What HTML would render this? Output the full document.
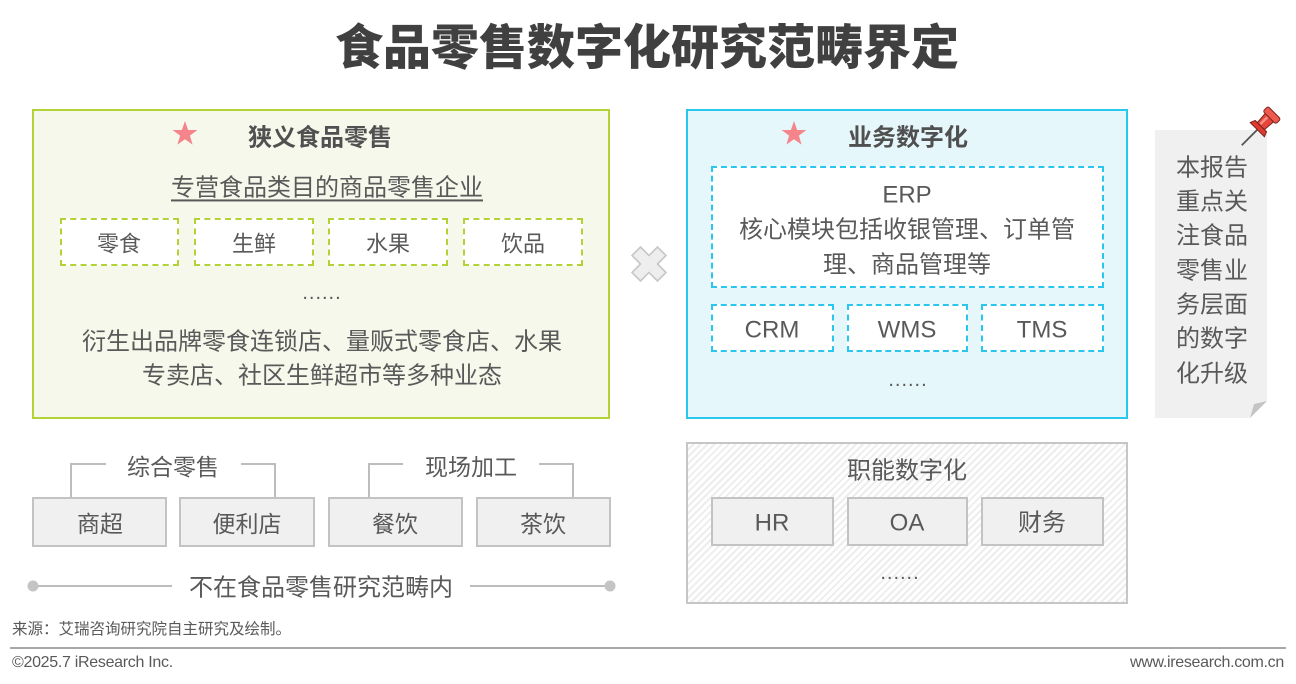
<!DOCTYPE html>
<html><head><meta charset="utf-8">
<style>
*{margin:0;padding:0;box-sizing:border-box}
html,body{width:1296px;height:684px;background:#fff;overflow:hidden}
body{position:relative;font-family:"Liberation Sans","Noto Sans CJK SC",sans-serif;color:#595959}
.a{position:absolute}
.t{position:absolute;white-space:nowrap;line-height:1;transform:translate(-50%,-44%);text-align:center}
.bx{position:absolute}
.gd{border:2px dashed #b2d235;background:#fff}
.cd{border:2px dashed #29c6ee;background:#fff}
.gr{border:2px solid #c3c3c3;background:#f0f0f0}
.dots{font-size:20px;letter-spacing:1px}
</style></head><body>

<!-- title -->
<div class="t" style="left:647px;top:46px;font-size:48px;font-weight:900;color:#404040">食品零售数字化研究范畴界定</div>

<!-- left green box -->
<div class="bx" style="left:32px;top:109px;width:578px;height:310px;border:2px solid #b2d235;background:#f5f8eb"></div>
<div class="t" style="left:320px;top:137px;font-size:24px;font-weight:bold;color:#505050">狭义食品零售</div>
<div class="t" style="left:327px;top:187px;font-size:24px;text-decoration:underline;text-decoration-thickness:2px;text-underline-offset:4px">专营食品类目的商品零售企业</div>

<div class="bx gd" style="left:60px;top:218px;width:119px;height:48px"></div>
<div class="bx gd" style="left:194px;top:218px;width:120px;height:48px"></div>
<div class="bx gd" style="left:328px;top:218px;width:120px;height:48px"></div>
<div class="bx gd" style="left:463px;top:218px;width:120px;height:48px"></div>
<div class="t" style="left:119px;top:243px;font-size:22px">零食</div>
<div class="t" style="left:254px;top:243px;font-size:22px">生鲜</div>
<div class="t" style="left:388px;top:243px;font-size:22px">水果</div>
<div class="t" style="left:523px;top:243px;font-size:22px">饮品</div>
<div class="t dots" style="left:322px;top:292px">......</div>
<div class="t" style="left:322px;top:341px;font-size:24px">衍生出品牌零食连锁店、量贩式零食店、水果</div>
<div class="t" style="left:322px;top:375px;font-size:24px">专卖店、社区生鲜超市等多种业态</div>

<!-- right cyan box -->
<div class="bx" style="left:686px;top:109px;width:442px;height:310px;border:2px solid #29c6ee;background:#e6f7fc"></div>
<div class="t" style="left:908px;top:137px;font-size:24px;font-weight:bold;color:#505050">业务数字化</div>
<div class="bx cd" style="left:711px;top:166px;width:393px;height:122px"></div>
<div class="t" style="left:907px;top:194px;font-size:24px">ERP</div>
<div class="t" style="left:907px;top:229px;font-size:24px">核心模块包括收银管理、订单管</div>
<div class="t" style="left:907px;top:264px;font-size:24px">理、商品管理等</div>
<div class="bx cd" style="left:711px;top:304px;width:123px;height:48px"></div>
<div class="bx cd" style="left:847px;top:304px;width:121px;height:48px"></div>
<div class="bx cd" style="left:981px;top:304px;width:123px;height:48px"></div>
<div class="t" style="left:772px;top:329px;font-size:24px">CRM</div>
<div class="t" style="left:907px;top:329px;font-size:24px">WMS</div>
<div class="t" style="left:1042px;top:329px;font-size:24px">TMS</div>
<div class="t dots" style="left:908px;top:379px">......</div>

<!-- bottom-right hatched box -->
<div class="bx" style="left:686px;top:442px;width:442px;height:162px;border:2px solid #c6c6c6;background:repeating-linear-gradient(135deg,#ffffff 0 3px,#ededed 3px 5px)"></div>
<div class="t" style="left:907px;top:470px;font-size:24px">职能数字化</div>
<div class="bx gr" style="left:711px;top:497px;width:123px;height:49px"></div>
<div class="bx gr" style="left:847px;top:497px;width:121px;height:49px"></div>
<div class="bx gr" style="left:981px;top:497px;width:123px;height:49px"></div>
<div class="t" style="left:772px;top:522px;font-size:24px">HR</div>
<div class="t" style="left:907px;top:522px;font-size:24px">OA</div>
<div class="t" style="left:1042px;top:522px;font-size:24px">财务</div>
<div class="t dots" style="left:900px;top:572px">......</div>

<!-- bottom-left -->
<div class="t" style="left:173px;top:466px;font-size:23px">综合零售</div>
<div class="t" style="left:471px;top:466px;font-size:23px">现场加工</div>
<div class="bx gr" style="left:32px;top:497px;width:135px;height:50px"></div>
<div class="bx gr" style="left:179px;top:497px;width:136px;height:50px"></div>
<div class="bx gr" style="left:328px;top:497px;width:135px;height:50px"></div>
<div class="bx gr" style="left:476px;top:497px;width:135px;height:50px"></div>
<div class="t" style="left:100px;top:523px;font-size:23px">商超</div>
<div class="t" style="left:247px;top:523px;font-size:23px">便利店</div>
<div class="t" style="left:395px;top:523px;font-size:23px">餐饮</div>
<div class="t" style="left:543px;top:523px;font-size:23px">茶饮</div>
<div class="t" style="left:321px;top:587px;font-size:24px">不在食品零售研究范畴内</div>

<svg class="a" style="left:0;top:0" width="1296" height="684" viewBox="0 0 1296 684">
  <!-- note card -->
  <polygon points="1155,130 1267,130 1267,401 1250,418 1155,418" fill="#f0f0f0"/>
  <polygon points="1250,418 1254,404 1267,401" fill="#c4c4c4"/>
  <!-- pin -->
  <g transform="translate(1263,124) rotate(45)">
    <line x1="0" y1="6" x2="0" y2="30" stroke="#555" stroke-width="1.8"/>
    <path d="M-10,8 L10,8 L8,3 L-8,3 Z" fill="#e03a30" stroke="#7a241d" stroke-width="1"/>
    <path d="M-5,3 L5,3 L6,-10 L-6,-10 Z" fill="#e8453a" stroke="#7a241d" stroke-width="1"/>
    <rect x="-9" y="-16" width="18" height="7" rx="2" fill="#f05a4e" stroke="#7a241d" stroke-width="1"/>
    <rect x="-3" y="-8" width="2.5" height="10" fill="#f7a39b" opacity="0.8"/>
  </g>
  <!-- stars -->
  <polygon fill="#f4858b" points="185,121 188.1,130 197.4,130 189.9,135.6 192.6,144.6 185,139.2 177.4,144.6 180.1,135.6 172.6,130 181.9,130"/>
  <polygon fill="#f4858b" points="794,121 797.1,130 806.4,130 798.9,135.6 801.6,144.6 794,139.2 786.4,144.6 789.1,135.6 781.6,130 790.9,130"/>
  <!-- X icon -->
  <g transform="translate(649,264) rotate(45)">
    <path d="M-6,-18 H6 V-6 H18 V6 H6 V18 H-6 V6 H-18 V-6 H-6 Z" fill="#eeeeee" stroke="#c6c6c6" stroke-width="1.6"/>
  </g>
  <!-- brackets -->
  <g stroke="#bdbdbd" stroke-width="2" fill="none">
    <polyline points="71,497 71,464 106,464"/>
    <polyline points="241,464 275,464 275,497"/>
    <polyline points="369,497 369,464 403,464"/>
    <polyline points="539,464 573,464 573,497"/>
    <line x1="33" y1="586" x2="172" y2="586"/>
    <line x1="470" y1="586" x2="610" y2="586"/>
  </g>
  <circle cx="33" cy="586" r="5.5" fill="#c4c4c4"/>
  <circle cx="610" cy="586" r="5.5" fill="#c4c4c4"/>
  <!-- separator -->
  <line x1="10" y1="648" x2="1286" y2="648" stroke="#8a8a8a" stroke-width="1.5"/>
</svg>

<div class="t" style="left:1212px;top:167px;font-size:24px">本报告</div>
<div class="t" style="left:1212px;top:201px;font-size:24px">重点关</div>
<div class="t" style="left:1212px;top:235px;font-size:24px">注食品</div>
<div class="t" style="left:1212px;top:270px;font-size:24px">零售业</div>
<div class="t" style="left:1212px;top:304px;font-size:24px">务层面</div>
<div class="t" style="left:1212px;top:338px;font-size:24px">的数字</div>
<div class="t" style="left:1212px;top:373px;font-size:24px">化升级</div>

<!-- footer -->
<div class="a" style="left:12px;top:621px;font-size:15.5px;line-height:18px;white-space:nowrap">来源：艾瑞咨询研究院自主研究及绘制。</div>
<div class="a" style="left:12px;top:654px;font-size:16px;line-height:18px;white-space:nowrap;letter-spacing:-0.3px">©2025.7 iResearch Inc.</div>
<div class="a" style="right:12px;top:654px;font-size:16px;line-height:18px;white-space:nowrap;letter-spacing:-0.3px">www.iresearch.com.cn</div>

</body></html>
